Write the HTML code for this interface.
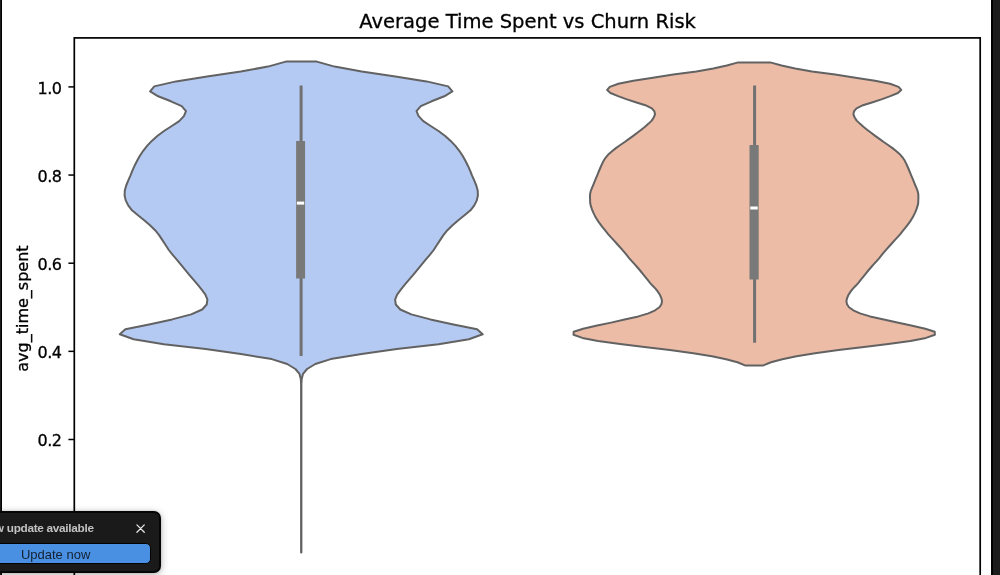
<!DOCTYPE html>
<html lang="en">
<head>
<meta charset="utf-8">
<title>Average Time Spent vs Churn Risk</title>
<style>
html,body{margin:0;padding:0;background:#fff;}
body{width:1000px;height:575px;overflow:hidden;position:relative;font-family:"Liberation Sans",sans-serif;}
#plot{position:absolute;left:0;top:0;width:1000px;height:575px;display:block;will-change:transform;}
#plot text{font-family:"DejaVu Sans","Liberation Sans",sans-serif;fill:#000;stroke:#000;stroke-width:.3px;}
.edge-l{position:absolute;left:0;top:0;width:2.1px;height:575px;background:linear-gradient(to right,#1c1c1c .9px,#000 .9px);}
.edge-r{position:absolute;left:991.3px;top:0;width:8.7px;height:575px;background:linear-gradient(to right,#000 1.8px,#1c1c1c 1.8px);}
.toast{will-change:transform;position:absolute;left:-40px;top:511px;width:201px;height:62px;box-sizing:border-box;background:#1a1a1a;border:2px solid #050505;border-radius:7px;box-shadow:0 2px 8px rgba(0,0,0,.28),0 0 3px rgba(0,0,0,.18);}
.toast .msg{position:absolute;left:18.4px;top:7.2px;font-size:11.8px;font-weight:bold;color:#c2c2c2;white-space:nowrap;letter-spacing:-0.3px;line-height:16px;}
.toast .close{position:absolute;left:174.1px;top:10.8px;width:9.2px;height:9.2px;}
.toast .btn{position:absolute;left:19.5px;top:30.3px;width:169.3px;height:20.8px;box-sizing:border-box;background:#4a90e2;border:1.3px solid #030303;border-radius:5px;color:#14202f;font-size:13px;line-height:18px;text-align:left;white-space:nowrap;}
.toast .btn span{position:absolute;left:38.4px;top:1.9px;}
</style>
</head>
<body>
<svg id="plot" width="1000" height="575" viewBox="0 0 1000 575">
  <rect x="0" y="0" width="1000" height="575" fill="#fff"/>
  <text x="527.6" y="27.9" text-anchor="middle" font-size="19.55">Average Time Spent vs Churn Risk</text>
  <text transform="translate(27.6,308.6) rotate(-90)" text-anchor="middle" font-size="16">avg_time_spent</text>
  <path d="M285.8 61.6L267.9 66.6L240.8 71.5L207.1 76.5L176.0 81.4L154.3 86.4L150.1 91.3L158.2 96.3L170.9 101.3L181.7 106.2L186.0 111.2L183.9 116.1L179.2 121.1L171.8 126.0L164.0 131.0L157.3 136.0L151.8 140.9L147.1 145.9L143.2 150.8L139.9 155.8L137.1 160.8L134.6 165.7L132.4 170.7L130.4 175.6L128.2 180.6L126.2 185.5L124.8 190.5L124.6 195.5L125.7 200.4L128.2 205.4L132.0 210.3L138.0 215.3L144.2 220.2L150.0 225.2L155.1 230.2L159.1 235.1L162.4 240.1L165.6 245.0L168.8 250.0L172.7 254.9L177.0 259.9L181.1 264.9L185.2 269.8L189.3 274.8L193.4 279.7L197.7 284.7L201.7 289.6L205.4 294.6L207.4 299.6L206.7 304.5L202.2 309.5L191.2 314.4L172.1 319.4L149.1 324.4L125.4 329.3L119.8 334.3L133.6 339.2L163.9 344.2L205.7 349.1L240.9 354.1L271.8 359.1L287.2 364.0L295.4 369.0L299.5 373.9L300.8 378.9L301.1 383.8L301.1 388.8L301.1 393.8L301.1 398.7L301.1 403.7L301.1 408.6L301.1 413.6L301.1 418.5L301.1 423.5L301.1 428.5L301.1 433.4L301.1 438.4L301.1 443.3L301.1 448.3L301.1 453.2L301.1 458.2L301.1 463.2L301.1 468.1L301.1 473.1L301.1 478.0L301.1 483.0L301.1 488.0L301.1 492.9L301.1 497.9L301.1 502.8L301.1 507.8L301.1 512.7L301.1 517.7L301.1 522.7L301.1 527.6L301.1 532.6L301.1 537.5L301.1 542.5L301.1 547.4L301.1 552.4L301.4 552.4L301.4 547.4L301.4 542.5L301.4 537.5L301.4 532.6L301.4 527.6L301.4 522.7L301.4 517.7L301.4 512.7L301.4 507.8L301.4 502.8L301.4 497.9L301.4 492.9L301.4 488.0L301.4 483.0L301.4 478.0L301.4 473.1L301.4 468.1L301.4 463.2L301.4 458.2L301.4 453.2L301.4 448.3L301.4 443.3L301.4 438.4L301.4 433.4L301.4 428.5L301.4 423.5L301.4 418.5L301.4 413.6L301.4 408.6L301.4 403.7L301.4 398.7L301.4 393.8L301.4 388.8L301.4 383.8L301.7 378.9L303.0 373.9L307.1 369.0L315.3 364.0L330.7 359.1L361.6 354.1L396.8 349.1L438.6 344.2L468.9 339.2L482.7 334.3L477.1 329.3L453.4 324.4L430.4 319.4L411.3 314.4L400.3 309.5L395.8 304.5L395.1 299.6L397.1 294.6L400.8 289.6L404.8 284.7L409.1 279.7L413.2 274.8L417.3 269.8L421.4 264.9L425.5 259.9L429.8 254.9L433.7 250.0L436.9 245.0L440.1 240.1L443.4 235.1L447.4 230.2L452.5 225.2L458.3 220.2L464.5 215.3L470.5 210.3L474.3 205.4L476.8 200.4L477.9 195.5L477.7 190.5L476.3 185.5L474.3 180.6L472.1 175.6L470.1 170.7L467.9 165.7L465.4 160.8L462.6 155.8L459.3 150.8L455.4 145.9L450.7 140.9L445.2 136.0L438.5 131.0L430.7 126.0L423.3 121.1L418.6 116.1L416.5 111.2L420.8 106.2L431.6 101.3L444.3 96.3L452.4 91.3L448.2 86.4L426.5 81.4L395.4 76.5L361.7 71.5L334.6 66.6L316.8 61.6Z" fill="#b5caf3" stroke="#626262" stroke-width="2" stroke-linejoin="round"/>
  <path d="M738.2 62.4L726.8 65.5L713.3 68.5L696.4 71.6L673.3 74.6L652.9 77.7L633.4 80.8L618.4 83.8L609.8 86.9L607.2 89.9L610.5 93.0L618.1 96.1L626.2 99.1L635.7 102.2L645.4 105.2L651.9 108.3L654.4 111.4L655.0 114.4L653.7 117.5L651.7 120.6L648.6 123.6L645.0 126.7L641.3 129.7L637.3 132.8L633.2 135.9L629.0 138.9L624.7 142.0L620.3 145.0L615.9 148.1L612.0 151.2L608.6 154.2L605.9 157.3L603.9 160.3L602.3 163.4L600.9 166.5L599.6 169.5L598.3 172.6L597.1 175.6L595.8 178.7L594.5 181.8L593.3 184.8L592.0 187.9L590.8 190.9L590.1 194.0L590.0 197.1L590.1 200.1L590.2 203.2L590.9 206.2L592.0 209.3L593.2 212.4L594.7 215.4L596.4 218.5L598.4 221.6L600.6 224.6L602.9 227.7L605.4 230.7L607.9 233.8L610.6 236.9L613.4 239.9L616.2 243.0L618.9 246.0L621.7 249.1L624.3 252.2L626.8 255.2L629.3 258.3L632.0 261.3L634.8 264.4L637.5 267.5L640.1 270.5L642.6 273.6L645.0 276.6L647.5 279.7L650.0 282.8L652.7 285.8L655.7 288.9L658.0 291.9L660.0 295.0L661.3 298.1L662.0 301.1L661.4 304.2L659.4 307.2L655.1 310.3L648.4 313.4L638.4 316.4L624.6 319.5L611.1 322.6L597.2 325.6L583.1 328.7L573.7 331.7L573.5 334.8L582.4 337.9L598.0 340.9L620.1 344.0L644.4 347.0L669.9 350.1L693.3 353.2L711.9 356.2L726.1 359.3L737.4 362.3L745.0 365.4L763.4 365.4L771.0 362.3L782.3 359.3L796.5 356.2L815.1 353.2L838.5 350.1L864.0 347.0L888.3 344.0L910.4 340.9L926.0 337.9L934.9 334.8L934.7 331.7L925.3 328.7L911.2 325.6L897.3 322.6L883.8 319.5L870.0 316.4L860.0 313.4L853.3 310.3L849.0 307.2L847.0 304.2L846.4 301.1L847.1 298.1L848.4 295.0L850.4 291.9L852.7 288.9L855.7 285.8L858.4 282.8L860.9 279.7L863.4 276.6L865.8 273.6L868.3 270.5L870.9 267.5L873.6 264.4L876.4 261.3L879.1 258.3L881.6 255.2L884.1 252.2L886.7 249.1L889.5 246.0L892.2 243.0L895.0 239.9L897.8 236.9L900.5 233.8L903.0 230.7L905.5 227.7L907.8 224.6L910.0 221.6L912.0 218.5L913.7 215.4L915.2 212.4L916.4 209.3L917.5 206.2L918.2 203.2L918.3 200.1L918.4 197.1L918.3 194.0L917.6 190.9L916.4 187.9L915.1 184.8L913.9 181.8L912.6 178.7L911.3 175.6L910.1 172.6L908.8 169.5L907.5 166.5L906.1 163.4L904.5 160.3L902.5 157.3L899.8 154.2L896.4 151.2L892.5 148.1L888.1 145.0L883.7 142.0L879.4 138.9L875.2 135.9L871.1 132.8L867.1 129.7L863.4 126.7L859.8 123.6L856.7 120.6L854.7 117.5L853.4 114.4L854.0 111.4L856.5 108.3L863.0 105.2L872.7 102.2L882.2 99.1L890.3 96.1L897.9 93.0L901.2 89.9L898.6 86.9L890.0 83.8L875.0 80.8L855.5 77.7L835.1 74.6L812.0 71.6L795.1 68.5L781.6 65.5L770.2 62.4Z" fill="#ecbca7" stroke="#626262" stroke-width="2" stroke-linejoin="round"/>
  <!-- inner box plots -->
  <line x1="301.1" x2="301.1" y1="85.6" y2="356" stroke="#717171" stroke-width="3"/>
  <line x1="300.6" x2="300.6" y1="141" y2="278.4" stroke="#797979" stroke-width="9"/>
  <rect x="296.8" y="201.6" width="7.4" height="3" fill="#fff"/>
  <line x1="754.6" x2="754.6" y1="85.6" y2="342.8" stroke="#717171" stroke-width="3"/>
  <line x1="754.1" x2="754.1" y1="145" y2="279.6" stroke="#797979" stroke-width="9.2"/>
  <rect x="750.3" y="206.5" width="7.4" height="3" fill="#fff"/>
  <!-- axes -->
  <rect x="74.3" y="37.9" width="905.9" height="560" fill="none" stroke="#000" stroke-width="1.7"/>
  <line x1="68.4" x2="74.3" y1="86.90" y2="86.90" stroke="#000" stroke-width="1.5"/><text x="61.6" y="93.75" text-anchor="end" font-size="16" letter-spacing="-0.45">1.0</text><line x1="68.4" x2="74.3" y1="175.05" y2="175.05" stroke="#000" stroke-width="1.5"/><text x="61.6" y="181.90" text-anchor="end" font-size="16" letter-spacing="-0.45">0.8</text><line x1="68.4" x2="74.3" y1="263.20" y2="263.20" stroke="#000" stroke-width="1.5"/><text x="61.6" y="270.05" text-anchor="end" font-size="16" letter-spacing="-0.45">0.6</text><line x1="68.4" x2="74.3" y1="351.35" y2="351.35" stroke="#000" stroke-width="1.5"/><text x="61.6" y="358.20" text-anchor="end" font-size="16" letter-spacing="-0.45">0.4</text><line x1="68.4" x2="74.3" y1="439.50" y2="439.50" stroke="#000" stroke-width="1.5"/><text x="61.6" y="446.35" text-anchor="end" font-size="16" letter-spacing="-0.45">0.2</text>
</svg>
<div class="edge-l"></div>
<div class="edge-r"></div>
<div class="toast">
  <div class="msg">New update available</div>
  <svg class="close" viewBox="0 0 10 10"><path d="M1 1L9 9M9 1L1 9" stroke="#ececec" stroke-width="1.3" fill="none" stroke-linecap="round"/></svg>
  <div class="btn"><span>Update now</span></div>
</div>
</body>
</html>
